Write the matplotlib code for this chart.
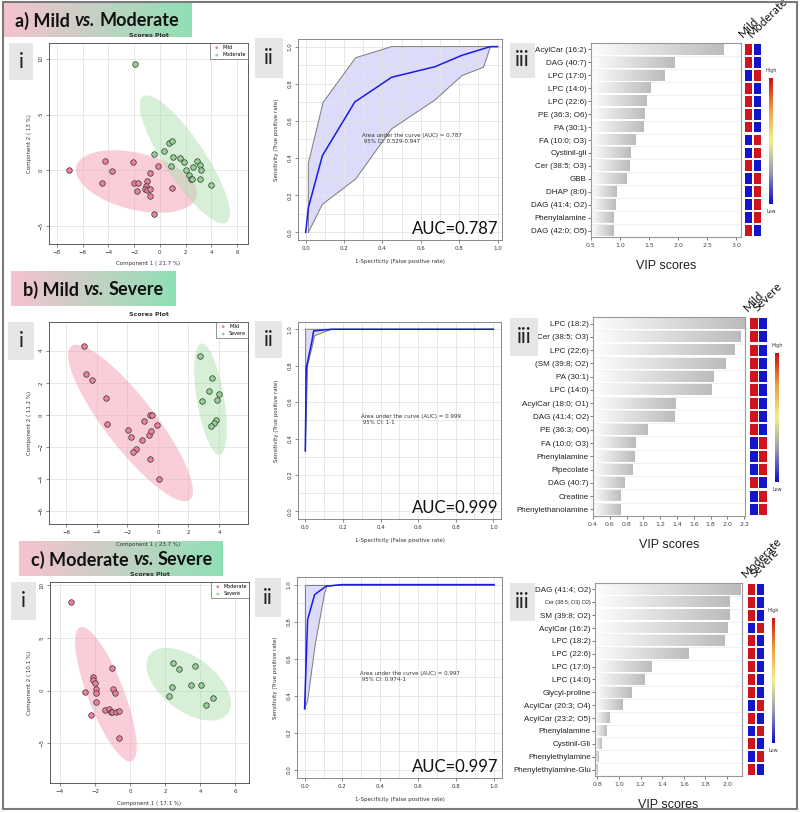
import numpy as np
import matplotlib.pyplot as plt
from matplotlib.colors import LinearSegmentedColormap
from matplotlib.patches import Rectangle

W, H = 800, 813

# ---------------- data ----------------
# scores plots (component 1, component 2)
a_mild_x = [-7.04, -4.23, -3.69, -4.49, -2.08, -2.0, -1.69, -1.79, -0.99, -1.04, -1.14, -0.96, -0.75, -0.75, -0.78, -0.16, 0.96, -0.42]
a_mild_y = [0.03, 0.84, -0.03, -1.13, 0.72, -1.16, -1.10, -1.88, -0.96, -1.37, -1.67, -1.79, -1.67, -2.27, -0.24, 0.39, -1.55, -3.94]
a_mod_x = [-1.9, -0.42, 0.34, 0.70, 0.94, 1.04, 1.56, 1.90, 0.88, 2.0, 2.29, 2.39, 2.52, 2.6, 2.91, 3.12, 3.17, 3.09, 4.0]
a_mod_y = [9.5, 1.49, 1.7, 2.42, 2.66, 1.16, 1.13, 0.75, 0.39, 0.03, -0.45, -0.75, -0.78, 0.33, 0.81, 0.48, 0.03, -0.75, -1.34]

b_mild_x = [-4.87, -4.74, -4.32, -3.43, -3.36, -1.97, -1.75, -1.42, -1.64, -1.03, -0.90, -0.59, -0.52, -0.39, -0.44, -0.07, -0.52, 0.04]
b_mild_y = [4.30, 2.58, 2.20, 1.08, -0.54, -0.94, -1.39, -2.12, -2.33, -1.56, -0.37, -1.27, -0.02, -0.02, -1.0, -0.62, -2.77, -3.99]
b_sev_x = [2.73, 3.56, 3.36, 4.0, 2.88, 3.86, 3.78, 3.65, 3.49]
b_sev_y = [3.70, 2.29, 1.50, 1.29, 0.89, 0.96, -0.33, -0.50, -0.69]

c_mod_x = [-3.38, -1.03, -2.09, -2.09, -2.0, -1.94, -1.92, -2.55, -0.95, -0.87, -1.96, -2.24, -1.44, -1.20, -1.10, -1.03, -0.78, -0.61, -0.63]
c_mod_y = [8.38, 2.16, 1.30, 0.98, 0.67, 0.16, -0.19, -0.10, 0.16, -0.19, -1.05, -2.29, -1.87, -1.71, -2.0, -2.03, -2.0, -1.90, -4.48]
c_sev_x = [2.47, 2.76, 3.71, 3.46, 4.03, 2.36, 2.24, 4.75, 4.30]
c_sev_y = [2.60, 2.0, 2.32, 0.57, 0.48, 0.29, -0.54, -0.73, -1.33]

# confidence ellipses: centre, semi-axis u, conjugate semi-axis v (data units)
a_mild_ell = [(-1.82, -0.99), (4.68, -1.34), (-0.53, -2.46)]
a_mod_ell = [(1.95, 0.99), (3.25, -5.64), (-1.32, -1.01)]
b_mild_ell = [(-1.80, -0.50), (3.88, -4.78), (-1.30, -0.95)]
b_sev_ell = [(3.44, 0.99), (0.60, -3.46), (-0.88, -0.14)]
c_mod_ell = [(-1.38, -0.35), (1.47, -6.35), (-0.96, -0.62)]
c_sev_ell = [(3.34, 0.59), (2.23, -2.78), (-0.91, -2.04)]

# ROC curves
a_roc_x = [0.0, 0.014, 0.087, 0.256, 0.448, 0.674, 0.814, 0.962, 1.0]
a_roc_y = [0.0, 0.133, 0.413, 0.702, 0.835, 0.892, 0.953, 1.0, 1.0]
a_up_x = [0.014, 0.014, 0.091, 0.26, 0.448, 1.0]
a_up_y = [0.0, 0.372, 0.70, 0.94, 1.0, 1.0]
a_lo_x = [0.014, 0.087, 0.26, 0.448, 0.674, 0.814, 0.927, 0.963, 1.0]
a_lo_y = [0.0, 0.151, 0.287, 0.557, 0.713, 0.844, 0.889, 1.0, 1.0]

b_roc_x = [0.0, 0.005, 0.036, 0.044, 0.139, 1.0]
b_roc_y = [0.332, 0.785, 0.94, 0.991, 1.0, 1.0]
b_up_x = [0.0, 0.002, 1.0]
b_up_y = [0.332, 1.0, 1.0]
b_lo_x = [0.0, 0.012, 0.05, 0.14, 1.0]
b_lo_y = [0.332, 0.80, 0.965, 1.0, 1.0]

c_roc_x = [0.0, 0.016, 0.053, 0.113, 0.197, 1.0]
c_roc_y = [0.331, 0.811, 0.946, 0.991, 1.0, 1.0]
c_up_x = [0.0, 0.0, 1.0]
c_up_y = [0.331, 1.0, 1.0]
c_lo_x = [0.0, 0.016, 0.056, 0.106, 0.118, 0.197, 1.0]
c_lo_y = [0.331, 0.371, 0.676, 0.955, 0.991, 1.0, 1.0]

a_auc = ["0.787", "0.529-0.947"]
b_auc = ["0.999", "1-1"]
c_auc = ["0.997", "0.974-1"]

# VIP scores (1 = higher in first group -> red/blue)
a_vip_names = ["AcylCar (16:2)", "DAG (40:7)", "LPC (17:0)", "LPC (14:0)", "LPC (22:6)", "PE (36:3; O6)",
               "PA (30:1)", "FA (10:0; O3)", "Cystinil-gli", "Cer (38:5; O3)", "GBB", "DHAP (8:0)",
               "DAG (41:4; O2)", "Phenylalamine", "DAG (42:0; O5)"]
a_vip = [2.78, 1.94, 1.76, 1.52, 1.45, 1.43, 1.41, 1.26, 1.18, 1.16, 1.11, 0.94, 0.92, 0.89, 0.89]
a_first_high = [1, 1, 0, 1, 1, 1, 1, 0, 0, 1, 0, 0, 0, 0, 1]

b_vip_names = ["LPC (18:2)", "Cer (38:5; O3)", "LPC (22:6)", "(SM (39:8; O2)", "PA (30:1)", "LPC (14:0)",
               "AcylCar (18:0; O1)", "DAG (41:4; O2)", "PE (36:3; O6)", "FA (10:0; O3)", "Phenylalamine",
               "Pipecolate", "DAG (40:7)", "Creatine", "Phenylethanolamine"]
b_vip = [2.20, 2.16, 2.08, 1.98, 1.83, 1.81, 1.38, 1.37, 1.05, 0.91, 0.90, 0.87, 0.77, 0.73, 0.73]
b_first_high = [1, 1, 1, 1, 1, 1, 1, 1, 1, 0, 0, 0, 1, 0, 0]

c_vip_names = ["DAG (41:4; O2)", "Cer (38:5; O3) O2)", "SM (39:8; O2)", "AcylCar (16:2)", "LPC (18:2)",
               "LPC (22:6)", "LPC (17:0)", "LPC (14:0)", "Glycyl-proline", "AcylCar (20:3; O4)",
               "AcylCar (23:2; O5)", "Phenylalamine", "Cystinil-Gli", "Phenylethylamine", "Phenylethylamine-Glu"]
c_vip = [2.12, 2.02, 2.02, 2.0, 1.98, 1.64, 1.30, 1.24, 1.12, 1.03, 0.91, 0.88, 0.84, 0.81, 0.80]
c_first_high = [1, 1, 1, 0, 1, 1, 1, 1, 1, 0, 1, 0, 1, 0, 1]

# ---------------- styling ----------------
PINK_PT, GREEN_PT = "#ec7f9b", "#93d293"
PINK_EL, GREEN_EL = "#f294ac", "#a6dca6"
RED, BLUE = "#d0141e", "#1414c8"
GRID = "#e4e4e4"
TXT = "#333333"
SANS = ["Liberation Sans", "DejaVu Sans"]

fig = plt.figure(figsize=(W / 100, H / 100), dpi=100)
fig.patch.set_facecolor("white")


def px_axes(l, t, r, b):
    return fig.add_axes([l / W, 1 - b / H, (r - l) / W, (b - t) / H])


def fx(x):
    return x / W


def fy(y):
    return 1 - y / H


def label_box(l, t, r, b, s):
    fig.patches.append(Rectangle((fx(l), fy(b)), (r - l) / W, (b - t) / H,
                                 transform=fig.transFigure, facecolor="#e6e6e6", edgecolor="none", zorder=8))
    fig.text(fx((l + r) / 2), fy((t + b) / 2), s, fontsize=15, family="Lato", color="#222222",
             ha="center", va="center", zorder=9)


grad_cmap = LinearSegmentedColormap.from_list("tg", ["#f6c2cf", "#8fe0b5"])


def title_box(l, t, r, b, pieces):
    ax = px_axes(l, t, r, b)
    ax.imshow(np.linspace(0, 1, 200)[None, :], aspect="auto", cmap=grad_cmap, extent=[0, 1, 0, 1])
    ax.set_axis_off()
    ax.set_zorder(4)
    rend = fig.canvas.get_renderer()
    x = l + 12
    for s, st in pieces:
        t_ = fig.text(fx(x), fy((t + b) / 2 + 1), s, fontsize=13, fontweight="bold", style=st,
                      family="Lato", color="#111111", va="center", zorder=6)
        x += t_.get_window_extent(renderer=rend).width + 4.5


def ellipse(ax, ell, color):
    (cx, cy), (ux, uy), (vx, vy) = ell
    t = np.linspace(0, 2 * np.pi, 200)
    ax.fill(cx + ux * np.cos(t) + vx * np.sin(t), cy + uy * np.cos(t) + vy * np.sin(t),
            color=color, alpha=0.45, lw=0, zorder=1)


def scores(box, g1x, g1y, g2x, g2y, e1, e2, names, xl, yl, xt, yt, xlab, ylab):
    ax = px_axes(*box)
    ax.set_zorder(5)
    ellipse(ax, e1, PINK_EL)
    ellipse(ax, e2, GREEN_EL)
    ax.scatter(g1x, g1y, s=16, c=PINK_PT, edgecolors="#333333", linewidths=0.5, zorder=3, label=names[0])
    ax.scatter(g2x, g2y, s=16, c=GREEN_PT, edgecolors="#333333", linewidths=0.5, zorder=3, label=names[1])
    ax.set_xlim(*xl)
    ax.set_ylim(*yl)
    ax.set_xticks(xt)
    ax.set_yticks(yt)
    ax.grid(True, color=GRID, lw=0.6, zorder=0)
    ax.set_axisbelow(True)
    ax.tick_params(labelsize=4, length=2, width=0.4, colors=TXT, pad=2)
    for lab in ax.get_yticklabels():
        lab.set_rotation(90)
        lab.set_va("center")
    for sp in ax.spines.values():
        sp.set_color("#444444")
        sp.set_linewidth(0.6)
    ax.set_xlabel(xlab, fontsize=4, color=TXT, labelpad=5)
    ax.set_ylabel(ylab, fontsize=4, color=TXT, labelpad=5)
    ax.set_title("Scores Plot", fontsize=4.5, fontweight="bold", color=TXT, pad=4)
    lg = ax.legend(loc="upper right", fontsize=3.5, markerscale=0.5, handletextpad=0.2,
                   borderpad=0.4, frameon=True, fancybox=False, borderaxespad=0)
    lg.get_frame().set_edgecolor("#444444")
    lg.get_frame().set_linewidth(0.5)
    for h in lg.legend_handles:
        h.set_edgecolor("none")
    return ax


def roc(box, rx, ry, ux, uy, lx, ly, auc, xl, yl):
    ax = px_axes(*box)
    ax.fill(np.concatenate([ux, lx[::-1]]), np.concatenate([uy, ly[::-1]]),
            color="#dcdcfa", lw=0, zorder=1)
    ax.plot(ux, uy, color="#7a7a7a", lw=0.7, zorder=2)
    ax.plot(lx, ly, color="#7a7a7a", lw=0.7, zorder=2)
    ax.plot(rx, ry, color="#1a1ae6", lw=1.1, zorder=3)
    ax.set_xlim(*xl)
    ax.set_ylim(*yl)
    ax.set_xticks(np.arange(0, 1.01, 0.2))
    ax.set_yticks(np.arange(0, 1.01, 0.2))
    ax.set_xticks(np.arange(0.1, 1.0, 0.2), minor=True)
    ax.set_yticks(np.arange(0.1, 1.0, 0.2), minor=True)
    ax.grid(True, which="both", color=GRID, lw=0.6, zorder=0)
    ax.tick_params(which="minor", length=0)
    ax.tick_params(labelsize=4, length=2, width=0.4, colors=TXT, pad=2)
    ax.xaxis.set_major_formatter(plt.FormatStrFormatter("%.1f"))
    ax.yaxis.set_major_formatter(plt.FormatStrFormatter("%.1f"))
    for lab in ax.get_yticklabels():
        lab.set_rotation(90)
        lab.set_va("center")
    for sp in ax.spines.values():
        sp.set_color("#777777")
        sp.set_linewidth(0.6)
    ax.set_xlabel("1-Specificity (False positive rate)", fontsize=4, color=TXT, labelpad=6)
    ax.set_ylabel("Sensitivity (True positive rate)", fontsize=4, color=TXT, labelpad=6)
    ax.text(0.295, 0.505, "Area under the curve (AUC) = %s\n 95%% CI: %s" % (auc[0], auc[1]),
            fontsize=4, color=TXT, va="center")
    ax.text(0.985, 0.015, "AUC=%s" % auc[0], fontsize=12, family="Lato", color="#111111",
            ha="right", va="bottom", transform=ax.transAxes)
    return ax


bar_cmap = LinearSegmentedColormap.from_list("bar", ["#fdfdfd", "#bcbcbc"])
cb_cmap = LinearSegmentedColormap.from_list("cb", ["#1010c8", "#9a9ab4", "#f4f08a", "#f0a040", "#d01010"])


def vip(box, hbox, cbox, names, vals, high, groups, xl, xt, small=None):
    ax = px_axes(*box)
    n = len(vals)
    for i, v in enumerate(vals):
        ax.imshow(np.linspace(0, 1, 100)[None, :], cmap=bar_cmap, aspect="auto",
                  extent=[xl[0], v, i + 0.4, i - 0.4], zorder=2)
    for i in range(n - 1):
        ax.axhline(i + 0.5, color="#efefef", lw=0.6, zorder=1)
    ax.set_xlim(*xl)
    ax.set_ylim(n - 0.5, -0.5)
    ax.set_yticks(range(n))
    ax.set_yticklabels(names, family=SANS)
    ax.set_xticks(xt)
    ax.xaxis.set_major_formatter(plt.FormatStrFormatter("%.1f"))
    ax.tick_params(axis="y", labelsize=5.8, length=2, width=0.5, colors="#444444", pad=1)
    ax.tick_params(axis="x", labelsize=4.5, length=2, width=0.5, colors="#444444", pad=2)
    for lab in ax.get_yticklabels():
        lab.set_color("#222222")
    if small is not None:
        ax.get_yticklabels()[small].set_fontsize(4)
    for sp in ax.spines.values():
        sp.set_color("#999999")
        sp.set_linewidth(0.8)
    ax.set_xlabel("VIP scores", fontsize=9, family=SANS, color="#222222", labelpad=9)
    # heatmap: column 0 = first group, column 1 = second group
    hx = px_axes(hbox[0], box[1], hbox[1], box[3])
    rows = np.arange(n)
    c0 = [RED if h else BLUE for h in high]
    c1 = [BLUE if h else RED for h in high]
    hx.barh(rows, 0.86, left=0.07, height=0.84, color=c0)
    hx.barh(rows, 0.86, left=1.07, height=0.84, color=c1)
    hx.set_xlim(0, 2)
    hx.set_ylim(n - 0.5, -0.5)
    hx.set_axis_off()
    for j, g in enumerate(groups):
        hx.text(j + 0.05, -0.75, g, rotation=45, fontsize=8.5, family="Lato", color="#111111",
                ha="left", va="bottom", rotation_mode="anchor")
    # colour key
    cx = px_axes(*cbox)
    cx.imshow(np.linspace(1, 0, 100)[:, None], cmap=cb_cmap, aspect="auto")
    cx.set_axis_off()
    cx.text(0.5, 1.04, "High", fontsize=3.5, color=TXT, ha="center", va="bottom", transform=cx.transAxes)
    cx.text(0.5, -0.04, "Low", fontsize=3.5, color=TXT, ha="center", va="top", transform=cx.transAxes)


# ---------------- row a ----------------
scores((49, 43, 248, 244), a_mild_x, a_mild_y, a_mod_x, a_mod_y, a_mild_ell, a_mod_ell,
       ["Mild", "Moderate"], (-8.62, 6.86), (-6.58, 11.4), range(-8, 7, 2), [-5, 0, 5, 10],
       "Component 1 ( 21.7 %)", "Component 2 ( 13 %)")
roc((298, 39, 502, 240), a_roc_x, a_roc_y, a_up_x, a_up_y, a_lo_x, a_lo_y, a_auc,
    (-0.04, 1.023), (-0.041, 1.041))
vip((591, 43, 741, 237), (744, 762), (769, 78, 773, 204), a_vip_names, a_vip, a_first_high,
    ["Mild", "Moderate"], (0.5, 3.086), np.arange(0.5, 3.01, 0.5))

# ---------------- row b ----------------
scores((49, 322, 248, 524), b_mild_x, b_mild_y, b_sev_x, b_sev_y, b_mild_ell, b_sev_ell,
       ["Mild", "Severe"], (-7.14, 5.9), (-6.79, 5.79), range(-6, 5, 2), range(-6, 5, 2),
       "Component 1 ( 23.7 %)", "Component 2 ( 11.2 %)")
roc((298, 322, 501, 519), b_roc_x, b_roc_y, b_up_x, b_up_y, b_lo_x, b_lo_y, b_auc,
    (-0.039, 1.041), (-0.042, 1.04))
vip((593, 317, 745, 516), (749, 768), (775, 353, 779, 482), b_vip_names, b_vip, b_first_high,
    ["Mild", "Severe"], (0.4, 2.21), np.arange(0.4, 2.21, 0.2))

# ---------------- row c ----------------
scores((50, 582, 249, 783), c_mod_x, c_mod_y, c_sev_x, c_sev_y, c_mod_ell, c_sev_ell,
       ["Moderate", "Severe"], (-4.57, 6.78), (-8.78, 10.3), range(-4, 7, 2), [-5, 0, 5, 10],
       "Component 1 ( 17.1 %)", "Component 2 ( 10.1 %)")
roc((297, 577, 502, 778), c_roc_x, c_roc_y, c_up_x, c_up_y, c_lo_x, c_lo_y, c_auc,
    (-0.04, 1.042), (-0.043, 1.041))
vip((595, 583, 742, 776), (747, 765), (772, 618, 775, 743), c_vip_names, c_vip, c_first_high,
    ["Moderate", "Severe"], (0.778, 2.138), np.arange(0.8, 2.01, 0.2), small=1)

# ---------------- titles and panel tags ----------------
title_box(3, 2, 192, 37, [("a) Mild", "normal"), ("vs.", "italic"), ("Moderate", "normal")])
title_box(11, 271, 176, 306, [("b) Mild", "normal"), ("vs.", "italic"), ("Severe", "normal")])
title_box(19, 541, 223, 576, [("c) Moderate", "normal"), ("vs.", "italic"), ("Severe", "normal")])

label_box(9, 43, 33, 80, "i")
label_box(255, 38, 283, 78, "ii")
label_box(510, 43, 535, 78, "iii")
label_box(8, 322, 34, 360, "i")
label_box(255, 321, 282, 358, "ii")
label_box(510, 318, 538, 356, "iii")
label_box(11, 582, 36, 620, "i")
label_box(255, 578, 281, 617, "ii")
label_box(510, 583, 535, 621, "iii")

# outer frame
fig.patches.append(Rectangle((fx(3), fy(809)), 794 / W, 807 / H, transform=fig.transFigure,
                             fill=False, edgecolor="#7a7a7a", lw=1.5, zorder=10))

fig.savefig("out.png", dpi=100)
